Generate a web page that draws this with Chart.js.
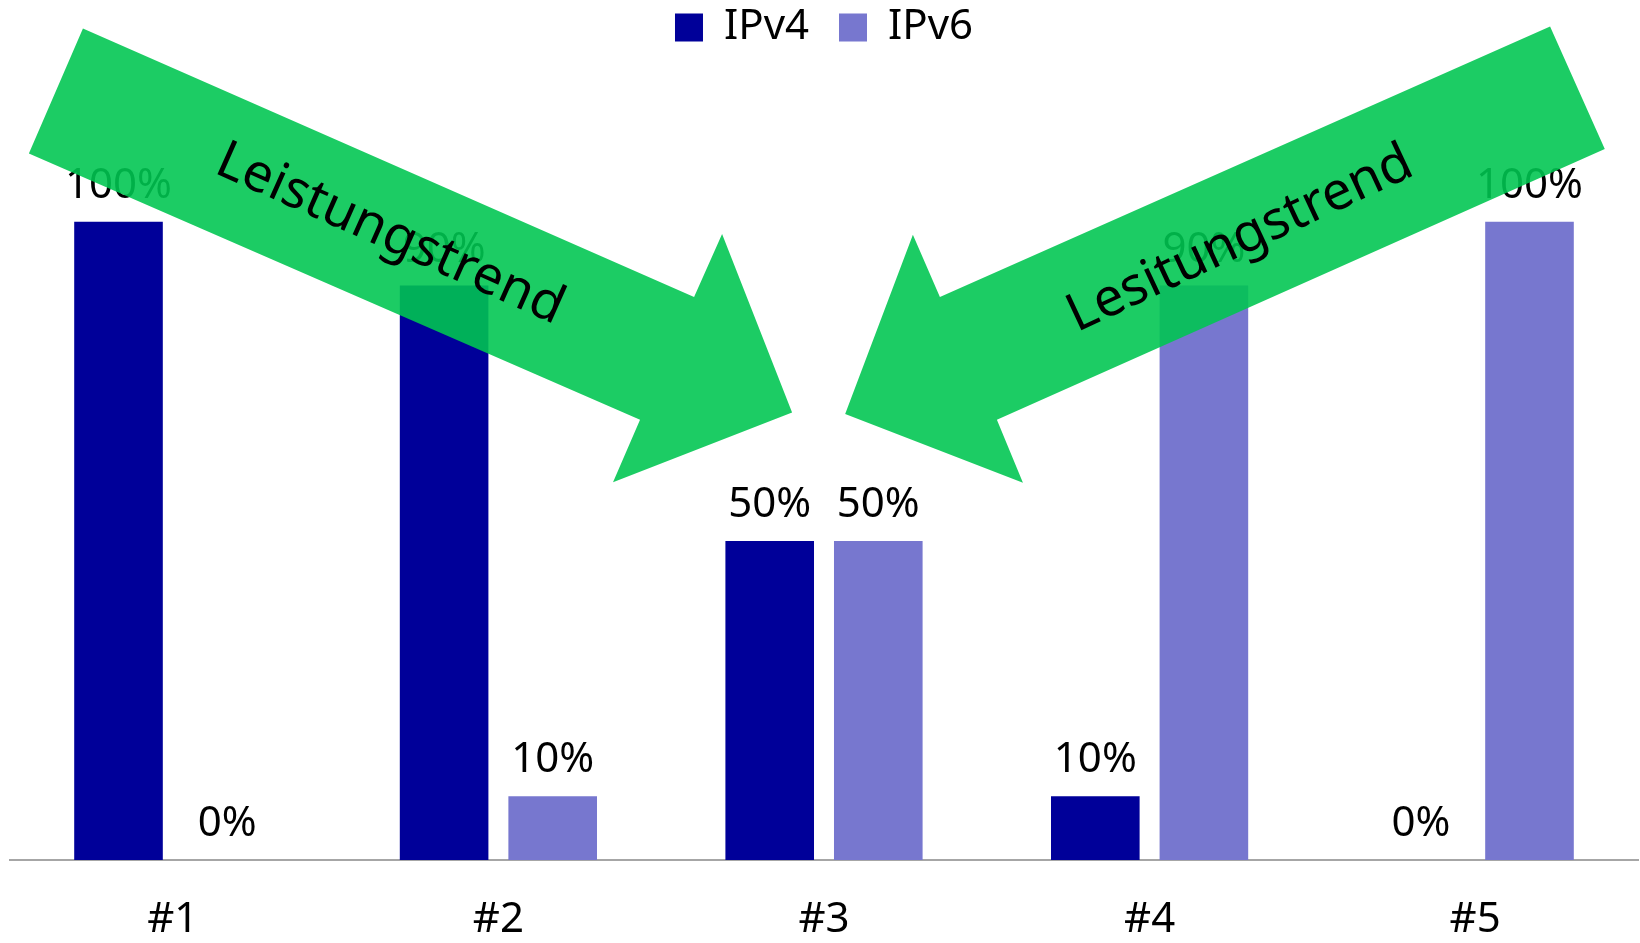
<!DOCTYPE html>
<html>
<head>
<meta charset="utf-8">
<script src="https://cdn.jsdelivr.net/npm/chart.js@4.4.0/dist/chart.umd.min.js"></script>
<style>
  html, body { margin: 0; padding: 0; background: #fff; }
  #wrap { width: 1640px; height: 943px; }
</style>
</head>
<body>
<div id="wrap"><canvas id="chart" width="1640" height="943"></canvas></div>
<script>
// categories and values (percent)
const categories = ['#1', '#2', '#3', '#4', '#5'];
const ipv4 = [100, 90, 50, 10, 0];
const ipv6 = [0, 10, 50, 90, 100];
const seriesNames = ['IPv4', 'IPv6'];
const arrowText = ['Leistungstrend', 'Lesitungstrend'];

// arrow outlines in (category index, percent) units
const leftArrow = [[-0.276, 130.3], [1.601, 88.2], [1.687, 98.1], [1.902, 70.1], [1.352, 59.2], [1.435, 69.0], [-0.442, 110.7]];
const rightArrow = [[4.230, 130.6], [4.398, 111.4], [2.531, 69.0], [2.611, 59.1], [2.065, 69.9], [2.273, 97.96], [2.356, 88.2]];

const FONT = '"Noto Sans", "Open Sans", sans-serif';

//draw value labels above bars
const valueLabels = {
  id: 'valueLabels',
  afterDatasetsDraw(chart) {
    const ctx = chart.ctx;
    ctx.save();
    ctx.font = `42px ${FONT}`;
    ctx.fillStyle = '#000';
    ctx.textAlign = 'center';
    ctx.textBaseline = 'alphabetic';
    chart.data.datasets.forEach((ds, i) => {
      chart.getDatasetMeta(i).data.forEach((bar, j) => {
        ctx.fillText(ds.data[j] + '%', bar.x, bar.y - 24);
      });
    });
    ctx.restore();
  }
};

//green trend arrows drawn on top
const trendArrows = {
  id: 'trendArrows',
  afterDraw(chart) {
    const ctx = chart.ctx;
    const xs = chart.scales.x, ys = chart.scales.y;
    const px = p => [xs.getPixelForValue(p[0]), ys.getPixelForValue(p[1])];
    ctx.save();
    ctx.fillStyle = 'rgba(0, 198, 81, 0.89)';
    [leftArrow, rightArrow].forEach(shape => {
      ctx.beginPath();
      shape.forEach((p, k) => {
        const [x, y] = px(p);
        if (k === 0) ctx.moveTo(x, y); else ctx.lineTo(x, y);
      });
      ctx.closePath();
      ctx.fill();
    });
    ctx.fillStyle = '#000';
    ctx.font = `53px ${FONT}`;
    ctx.textAlign = 'center';
    ctx.textBaseline = 'middle';
    const labels = [
      { text: arrowText[0], at: [0.667, 98.0], angle: 24 },
      { text: arrowText[1], at: [3.278, 97.2], angle: -25 }
    ];
    labels.forEach(l => {
      const [x, y] = px(l.at);
      ctx.save();
      ctx.translate(x, y);
      ctx.rotate(l.angle * Math.PI / 180);
      ctx.fillText(l.text, 0, 0);
      ctx.restore();
    });
    ctx.restore();
  }
};

const ctx = document.getElementById('chart');
new Chart(ctx, {
  type: 'bar',
  data: {
    labels: categories,
    datasets: [
      { label: seriesNames[0], data: ipv4, backgroundColor: '#000099' },
      { label: seriesNames[1], data: ipv6, backgroundColor: '#7777cf' }
    ]
  },
  options: {
    responsive: false,
    animation: false,
    devicePixelRatio: 1,
    categoryPercentage: 0.667,
    barPercentage: 0.816,
    layout: { padding: { left: 10, right: 2, top: -23.6, bottom: 0 } },
    plugins: {
      legend: {
        position: 'top',
        labels: {
          font: { family: FONT, size: 42 },
          color: '#000',
          boxWidth: 28,
          boxHeight: 28,
          padding: 30
        }
      },
      tooltip: { enabled: false }
    },
    scales: {
      x: {
        z: 1,
        grid: { display: false, drawTicks: false },
        border: { display: true, color: '#a6a6a6', width: 2 },
        ticks: { font: { family: FONT, size: 42 }, color: '#000', padding: 35 },
        afterFit: scale => { scale.height = 83; }
      },
      y: {
        display: false,
        min: 0,
        max: 125.6
      }
    }
  },
  plugins: [valueLabels, trendArrows]
});
</script>
</body>
</html>
